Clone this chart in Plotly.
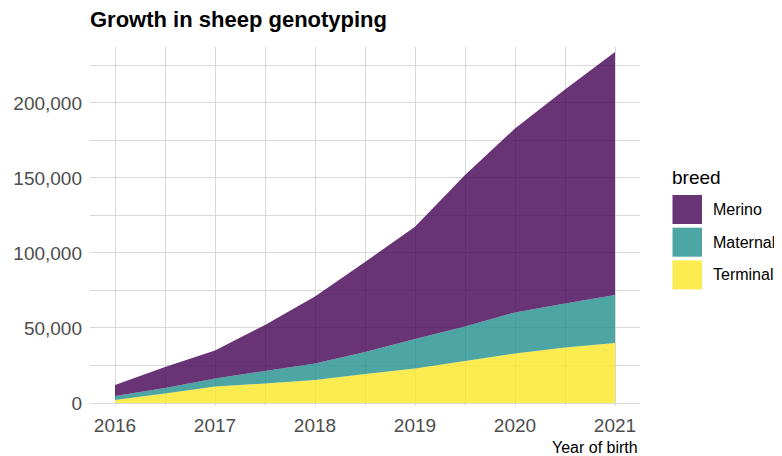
import plotly.graph_objects as go

# ---- data ----
years = [2016, 2016.5, 2017, 2017.5, 2018, 2018.5, 2019, 2019.5, 2020, 2020.5, 2021]
terminal = [2000, 6400, 11000, 13000, 15300, 19300, 23000, 28000, 33000, 37000, 40000]
maternal = [2700, 3600, 5400, 8300, 11100, 14700, 19700, 23000, 27400, 29400, 32000]
merino = [7300, 14000, 18600, 30700, 44600, 60000, 74800, 101000, 122600, 142600, 162000]

breeds = ["Merino", "Maternal", "Terminal"]
x_ticks = [2016, 2017, 2018, 2019, 2020, 2021]
y_ticks = [0, 50000, 100000, 150000, 200000]

colors = {
    "Terminal": "rgba(253,231,37,0.8)",
    "Maternal": "rgba(33,144,140,0.8)",
    "Merino": "rgba(68,1,84,0.8)",
}
series = {"Terminal": terminal, "Maternal": maternal, "Merino": merino}

FONT = "Liberation Sans, Arial, sans-serif"

# page body has an 8px margin, so the figure is drawn 8px smaller
W, H = 774, 448
OFF = 8
L, R, T, B = 90 - OFF, W - (640 - OFF), 47 - OFF, H - (406 - OFF)

fig = go.Figure()
for name in ["Terminal", "Maternal", "Merino"]:
    fig.add_trace(go.Scatter(
        x=years, y=series[name], name=name, stackgroup="one",
        mode="none", fillcolor=colors[name], line=dict(width=0),
        showlegend=False,
    ))

grid = "#d9d9d9"
fig.update_layout(
    width=W, height=H,
    margin=dict(l=L, r=R, t=T, b=B, autoexpand=False),
    paper_bgcolor="white", plot_bgcolor="white",
    font=dict(family=FONT, color="#4d4d4d"),
    title=dict(text="<b>Growth in sheep genotyping</b>", x=(90 - OFF) / W, xanchor="left",
               xref="container", y=1 - 4 / H, yanchor="top", pad=dict(t=0),
               font=dict(size=22, color="black", family=FONT)),
    xaxis=dict(range=[2015.75, 2021.25], tickmode="array", tickvals=x_ticks,
               ticktext=[str(v) for v in x_ticks], automargin=False,
               showgrid=True, gridcolor=grid, gridwidth=1.3, zeroline=False,
               showline=False, ticks="", ticklabelstandoff=6,
               tickfont=dict(size=19, color="#4d4d4d"),
               minor=dict(tickmode="array", tickvals=[2016.5, 2017.5, 2018.5, 2019.5, 2020.5],
                          showgrid=True, gridcolor=grid, gridwidth=1.1, ticks="")),
    yaxis=dict(range=[-2000, 237300], tickmode="array", tickvals=y_ticks,
               ticktext=[f"{v:,}" for v in y_ticks], automargin=False,
               showgrid=True, gridcolor=grid, gridwidth=1.3, zeroline=False,
               showline=False, ticks="", ticklabelstandoff=7,
               tickfont=dict(size=19, color="#4d4d4d"),
               minor=dict(tickmode="array", tickvals=[25000, 75000, 125000, 175000, 225000],
                          showgrid=True, gridcolor=grid, gridwidth=1.1, ticks="")),
)

pw = 640 - 90
ph = 406 - 47
def px_x(p):
    return (p - 90) / pw
def px_y(p):
    return (406 - p) / ph

# x-axis title at bottom right (ggplot style)
fig.add_annotation(text="Year of birth", xref="paper", yref="paper",
                   x=1, xanchor="right", y=px_y(447), yanchor="middle",
                   showarrow=False, font=dict(size=16, color="black", family=FONT))

# custom legend (ggplot-like squares)
fig.add_annotation(text="breed", xref="paper", yref="paper",
                   x=px_x(670), xanchor="left", y=px_y(177), yanchor="middle",
                   showarrow=False, font=dict(size=19, color="black", family=FONT))
top = 195
for i, name in enumerate(breeds):
    y0 = top + i * 32.7
    fig.add_shape(type="rect", xref="paper", yref="paper",
                  x0=px_x(672.5), x1=px_x(702), y0=px_y(y0 + 29), y1=px_y(y0),
                  fillcolor=colors[name], line=dict(width=0))
    fig.add_annotation(text=name, xref="paper", yref="paper",
                       x=px_x(711), xanchor="left", y=px_y(y0 + 14.5), yanchor="middle",
                       showarrow=False, font=dict(size=16, color="black", family=FONT))

fig.write_html("out.html")
